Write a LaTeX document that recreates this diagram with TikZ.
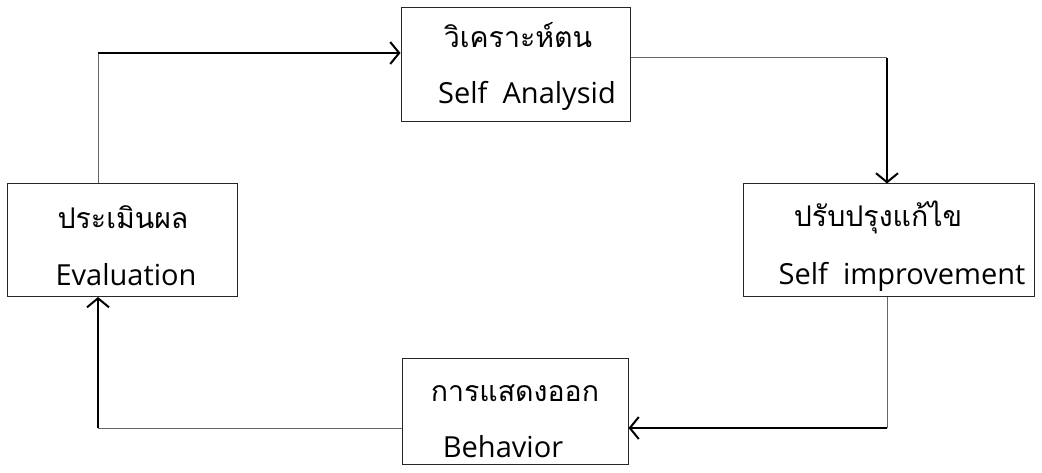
\documentclass[tikz,border=0pt]{standalone}
\usepackage{fontspec}
\setmainfont{Open Sans}
\newfontfamily\thaifont[Script=Thai]{Loma}
\usetikzlibrary{arrows.meta,calc}
\begin{document}
\begin{tikzpicture}[x=1pt,y=-1pt,
  box/.style={draw=black!85,line width=1pt,rectangle,inner sep=0pt},
  thin/.style={draw=black!60,line width=1pt},
  thick/.style={draw=black,line width=2.4pt,-{Straight Barb[length=9pt,width=22pt,line width=2pt]}},
  th/.style={font=\thaifont\fontsize{28.5}{32}\selectfont,inner sep=0pt},
  en/.style={font=\fontsize{29}{33}\selectfont,inner sep=0pt}]
\useasboundingbox (0,0) rectangle (1042,473);
% boxes
\node[box,minimum width=229pt,minimum height=114pt] (top) at (515.5,65) {};
\node[box,minimum width=291pt,minimum height=113pt] (right) at (889,240.5) {};
\node[box,minimum width=230pt,minimum height=113pt] (left) at (122,240) {};
\node[box,minimum width=226pt,minimum height=106pt] (bottom) at (515,411) {};
% texts
\node[th] (t1) at (518,35) {วิเคราะห์ตน};
\node[en] (e1) at (527,96) {Self\ \ Analysid};
\node[th] (t2) at (878,217) {ปรับปรุงแก้ไข};
\node[en] (e2) at (902,277) {Self\ \ improvement};
\node[th] (t3) at (123,217) {ประเมินผล};
\node[en] (e3) at (126,275) {Evaluation};
\node[th] (t4) at (515,393) {การแสดงออก};
\node[en] (e4) at (503,447) {Behavior};
% corner coordinates
\coordinate (c1) at (98,53);
\coordinate (c2) at (887,58);
\coordinate (c3) at (887,428);
\coordinate (c4) at (98,428);
% connectors
\draw[thin] (left.north -| c1) -- (c1);
\draw[thick] (c1) -- (top.west |- c1);
\draw[thin] (top.east |- c2) -- (c2);
\draw[thick] (c2) -- (right.north -| c2);
\draw[thin] (right.south -| c3) -- (c3);
\draw[thick] (c3) -- (bottom.east |- c3);
\draw[thin] (bottom.west |- c4) -- (c4);
\draw[thick] (c4) -- (left.south -| c4);
\end{tikzpicture}
\end{document}
